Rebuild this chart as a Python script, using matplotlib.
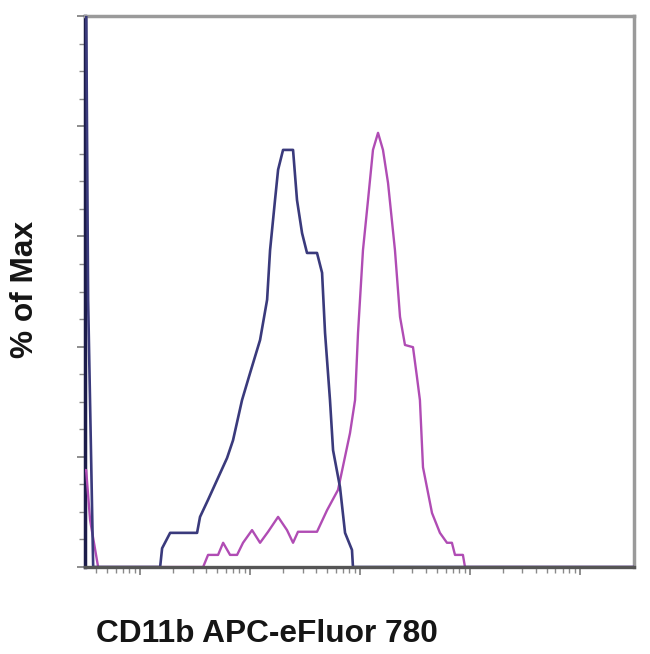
"""Flow cytometry overlay histogram: CD11b APC-eFluor 780, % of Max."""
import numpy as np
import matplotlib
matplotlib.use("Agg")
import matplotlib.pyplot as plt
from matplotlib.ticker import FixedLocator, NullFormatter

# log10 fluorescence intensity and % of max
blue_log = [0.50, 0.51, 0.527, 0.573, 1.182, 1.20, 1.273, 1.518, 1.545, 1.618, 1.70,
            1.791, 1.845, 1.927, 2.0, 2.091, 2.155, 2.182, 2.227, 2.255, 2.30,
            2.391, 2.427, 2.473, 2.518, 2.609, 2.655, 2.682, 2.727, 2.755, 2.818,
            2.864, 2.927, 2.936, 5.5]
blue_pct = [100, 100, 48.5, 0, 0, 3.4, 6.2, 6.2, 9.1, 12.2, 15.8,
            19.8, 23.0, 30.3, 35.2, 41.2, 48.5, 57.5, 66.6, 72.1, 75.7,
            75.7, 66.6, 60.6, 57.0, 57.0, 53.4, 42.5, 30.3, 21.2, 14.5,
            6.2, 3.1, 0, 0]

mag_log = [0.50, 0.509, 0.545, 0.618, 1.573, 1.618, 1.709, 1.755, 1.818, 1.882,
           1.936, 2.018, 2.091, 2.164, 2.255, 2.336, 2.391, 2.436, 2.609, 2.70,
           2.80, 2.909, 2.955, 2.982, 3.027, 3.073, 3.118, 3.164, 3.209, 3.255,
           3.318, 3.364, 3.409, 3.482, 3.518, 3.545, 3.573, 3.655, 3.727, 3.791,
           3.836, 3.864, 3.936, 3.955, 5.5]
mag_pct = [17.6, 17.6, 8.5, 0, 0, 2.2, 2.2, 4.4, 2.2, 2.2,
           4.4, 6.7, 4.4, 6.4, 9.1, 6.7, 4.4, 6.4, 6.4, 10.3,
           14.0, 24.3, 30.3, 42.5, 57.5, 66.6, 75.7, 78.8, 75.7, 69.7,
           57.5, 45.4, 40.3, 39.9, 34.5, 30.3, 18.1, 9.8, 6.2, 4.4,
           4.4, 2.2, 2.2, 0, 0]

x_label = "CD11b APC-eFluor 780"
y_label = "% of Max"

BLUE = "#3a3a7c"
MAGENTA = "#b04cb4"
FRAME = "#9a9a9a"

plt.rcParams["font.family"] = ["Liberation Sans", "DejaVu Sans"]

fig = plt.figure(figsize=(6.5, 6.54), dpi=100)
ax = fig.add_axes([0.131, 0.133, 0.844, 0.8425])

ax.plot(10 ** np.array(mag_log), mag_pct, color=MAGENTA, lw=1.7, zorder=3)
ax.plot(10 ** np.array(blue_log), blue_pct, color=BLUE, lw=1.9, zorder=4)

ax.set_xscale("log")
ax.set_xlim(10 ** 0.5, 10 ** 5.49)
ax.set_ylim(0, 100)

# ticks: log decades on x, 20 % majors / 5 % minors on y, no labels
ax.xaxis.set_major_locator(FixedLocator([1e1, 1e2, 1e3, 1e4, 1e5]))
minors = [k * 10.0 ** d for d in range(0, 5) for k in range(2, 10)]
ax.xaxis.set_minor_locator(FixedLocator(minors))
ax.yaxis.set_major_locator(FixedLocator(np.arange(0, 101, 20)))
ax.yaxis.set_minor_locator(FixedLocator(np.arange(0, 101, 5)))
ax.xaxis.set_major_formatter(NullFormatter())
ax.xaxis.set_minor_formatter(NullFormatter())
ax.yaxis.set_major_formatter(NullFormatter())
ax.tick_params(which="major", direction="out", length=6, width=1.2, color="#7a7a7a")
ax.tick_params(which="minor", direction="out", length=4, width=1.0, color="#8a8a8a")

for side in ["top", "right"]:
    ax.spines[side].set_color(FRAME)
    ax.spines[side].set_linewidth(2.5)
ax.spines["bottom"].set_color("#555555")
ax.spines["bottom"].set_linewidth(2.4)
ax.spines["bottom"].set_zorder(5)
ax.spines["left"].set_color("#1c1c4a")
ax.spines["left"].set_linewidth(2.5)

fig.text(0.147, 0.019, x_label, fontsize=22.8, fontweight="bold", color="#151515",
         ha="left", va="baseline")
fig.text(0.038, 0.557, y_label, fontsize=22.8, fontweight="bold", color="#151515",
         rotation=90, ha="center", va="center")

fig.savefig("out.png", dpi=100)
